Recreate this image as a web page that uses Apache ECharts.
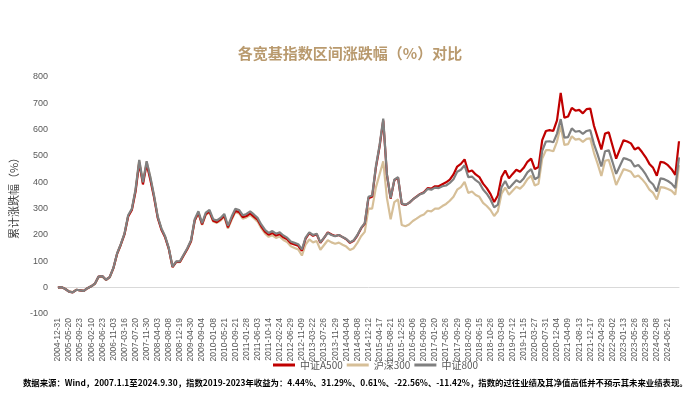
<!DOCTYPE html>
<html><head><meta charset="utf-8">
<script src="https://cdn.jsdelivr.net/npm/echarts@6/dist/echarts.min.js"></script>
<style>html,body{margin:0;padding:0;background:#fff}#c{width:700px;height:406px}</style>
</head><body><div id="c"></div>
<script>
const dates = [
"2004-12-31","2005-02-18","2005-04-01","2005-05-20","2005-07-01","2005-08-12","2005-09-23","2005-11-11","2005-12-23",
"2006-02-10","2006-03-24","2006-05-12","2006-06-23","2006-08-04","2006-09-15","2006-11-03","2006-12-15","2007-02-02",
"2007-03-16","2007-04-27","2007-06-08","2007-07-20","2007-08-31","2007-10-19","2007-11-30","2008-01-11","2008-02-29",
"2008-04-03","2008-05-16","2008-06-27","2008-08-08","2008-09-19","2008-11-07","2008-12-19","2009-02-06","2009-03-20",
"2009-04-30","2009-06-12","2009-07-24","2009-09-04","2009-10-23","2009-11-27","2010-01-08","2010-02-26","2010-04-09",
"2010-05-21","2010-07-02","2010-08-13","2010-09-21","2010-11-05","2010-12-17","2011-01-28","2011-03-11","2011-04-22",
"2011-06-03","2011-07-15","2011-08-26","2011-10-14","2011-11-25","2012-01-06","2012-02-24","2012-04-06","2012-05-18",
"2012-06-29","2012-08-10","2012-09-21","2012-11-09","2012-12-21","2013-02-01","2013-03-22","2013-05-03","2013-06-14",
"2013-07-26","2013-09-06","2013-10-18","2013-11-29","2014-01-10","2014-02-21","2014-04-04","2014-05-16","2014-06-27",
"2014-08-08","2014-09-19","2014-10-31","2014-12-12","2015-01-23","2015-03-06","2015-04-17","2015-05-29","2015-07-10",
"2015-08-21","2015-10-09","2015-11-13","2015-12-25","2016-02-05","2016-03-25","2016-05-06","2016-06-17","2016-07-29",
"2016-09-09","2016-10-28","2016-12-09","2017-01-20","2017-03-03","2017-04-14","2017-05-26","2017-07-07","2017-08-18",
"2017-09-29","2017-11-17","2017-12-29","2018-02-09","2018-03-30","2018-05-11","2018-06-15","2018-07-27","2018-09-07",
"2018-10-26","2018-12-07","2019-01-25","2019-03-08","2019-04-19","2019-05-31","2019-07-12","2019-08-23","2019-10-11",
"2019-11-15","2019-12-27","2020-02-14","2020-03-27","2020-05-15","2020-06-19","2020-07-31","2020-09-11","2020-10-23",
"2020-12-04","2021-01-15","2021-02-26","2021-04-09","2021-05-21","2021-07-02","2021-08-13","2021-09-24","2021-11-05",
"2021-12-17","2022-02-11","2022-03-18","2022-04-29","2022-06-10","2022-07-22","2022-09-02","2022-10-21","2022-12-02",
"2023-01-13","2023-03-03","2023-04-14","2023-05-26","2023-07-07","2023-08-18","2023-09-28","2023-11-17","2023-12-29",
"2024-02-08","2024-03-22","2024-05-10","2024-06-21","2024-08-02","2024-09-13","2024-09-30"
];
// 中证A500
const csiA500 = [
0,2,-5,-15,-18,-8,-10,-12,-2,5,15,42,44,30,40,74,128,163,202,270,295,365,475,392,470,410,343,265,220,191,
147,78,98,98,122,147,176,255,284,240,279,289,254,249,259,273,229,263,292,287,268,272,282,270,258,233,213,201,208,198,
203,191,184,169,164,159,140,186,207,197,203,170,189,210,202,196,200,192,184,170,178,198,225,243,340,345,455,535,635,428,
338,408,418,318,314,322,335,346,356,362,378,376,385,385,393,400,410,430,460,470,487,440,445,430,420,395,378,356,325,350,
420,445,415,432,448,440,455,478,490,450,458,560,595,598,595,635,740,645,650,683,672,675,662,678,680,615,570,525,585,590,
540,490,525,560,555,548,525,532,515,495,470,455,425,478,475,465,450,428,556
];
// 沪深300
const csi300 = [
0,2,-4,-14,-17,-8,-10,-12,-2,5,14,40,42,29,38,73,128,162,203,272,297,370,483,398,478,418,348,268,223,193,
148,78,98,97,122,146,175,254,283,238,277,286,251,246,255,269,224,258,287,282,262,267,276,264,251,226,206,193,199,189,
194,181,173,157,151,145,122,164,183,172,177,144,162,180,172,167,171,163,156,143,150,170,195,212,300,300,380,430,480,340,
260,325,335,238,233,240,253,262,272,278,292,290,300,300,310,318,330,345,372,382,402,360,365,352,345,322,310,295,272,290,
357,380,353,368,383,376,390,412,425,388,395,490,522,522,518,555,615,542,545,575,562,565,554,565,567,512,470,424,482,485,
440,390,420,450,446,440,420,426,412,395,372,360,335,382,380,375,368,353,465
];
// 中证800
const csi800 = [
0,2,-5,-15,-18,-8,-10,-12,-2,5,15,42,44,30,40,75,130,165,205,275,300,373,485,400,480,420,350,270,225,195,
150,80,100,100,125,150,180,260,290,245,285,295,260,255,265,280,235,270,300,295,275,280,290,278,265,240,220,208,215,205,
210,198,190,175,170,165,145,190,210,200,205,172,190,208,200,195,200,192,185,172,180,200,227,245,345,350,460,540,642,430,
340,410,420,320,315,322,335,345,355,360,375,372,380,378,385,388,398,412,440,448,465,420,422,408,398,373,357,335,305,315,
382,405,377,393,408,400,415,438,450,412,420,520,555,556,552,585,640,570,572,605,592,595,584,595,598,545,505,460,518,522,
478,432,462,492,488,482,460,466,450,430,405,392,365,415,412,405,395,378,495
];
const seriesNames = ["中证A500","沪深300","中证800"];
const yTicks = {min:-100, max:800, interval:100};
const lastLabelIndex = 165;

const chart = echarts.init(document.getElementById('c'), null, {renderer:'canvas'});
const lineStyle = (c) => ({color:c, width:2.2});
chart.setOption({
  animation:false,
  backgroundColor:'#fff',
  title:{text:'各宽基指数区间涨跌幅（%）对比', left:'center', top:41,
    textStyle:{color:'#B99A6E', fontSize:15, fontWeight:'bold', fontFamily:'Noto Sans CJK SC'}},
  legend:{data:seriesNames, top:355, left:268, icon:'rect', itemWidth:22, itemHeight:3, itemGap:4,
    textStyle:{color:'#595959', fontSize:10, fontFamily:'Noto Sans CJK SC'}},
  grid:{left:57, right:21, top:77, bottom:92, containLabel:false},
  xAxis:{type:'category', data:dates, boundaryGap:false,
    axisLine:{onZero:true, lineStyle:{color:'#d9d9d9', width:1}},
    axisTick:{show:false},
    axisLabel:{rotate:90, interval:(i)=> i % 3 === 0 && i <= lastLabelIndex, fontSize:8.5, color:'#595959', margin:4, fontFamily:'Liberation Sans'},
    splitLine:{show:false}},
  yAxis:{type:'value', min:yTicks.min, max:yTicks.max, interval:yTicks.interval,
    name:'累计涨跌幅（%）', nameLocation:'middle', nameGap:26,
    nameTextStyle:{color:'#404040', fontSize:11, fontFamily:'Noto Sans CJK SC'},
    axisLine:{show:false}, axisTick:{show:false}, splitLine:{show:false},
    axisLabel:{fontSize:9, color:'#595959', margin:10, fontFamily:'Liberation Sans'}},
  series:[
    {name:seriesNames[0], type:'line', data:csiA500, symbol:'none', lineStyle:lineStyle('#C00000'), itemStyle:{color:'#C00000'}, z:3},
    {name:seriesNames[1], type:'line', data:csi300, symbol:'none', lineStyle:lineStyle('#D6BF98'), itemStyle:{color:'#D6BF98'}, z:2},
    {name:seriesNames[2], type:'line', data:csi800, symbol:'none', lineStyle:lineStyle('#808080'), itemStyle:{color:'#808080'}, z:4}
  ],
  graphic:[{type:'text', left:23, top:379,
    style:{text:'数据来源：Wind，2007.1.1至2024.9.30，指数2019-2023年收益为：4.44%、31.29%、0.61%、-22.56%、-11.42%，指数的过往业绩及其净值高低并不预示其未来业绩表现。',
      fill:'#000', font:'bold 8.4px "Noto Sans CJK SC"'}}]
});
</script></body></html>
